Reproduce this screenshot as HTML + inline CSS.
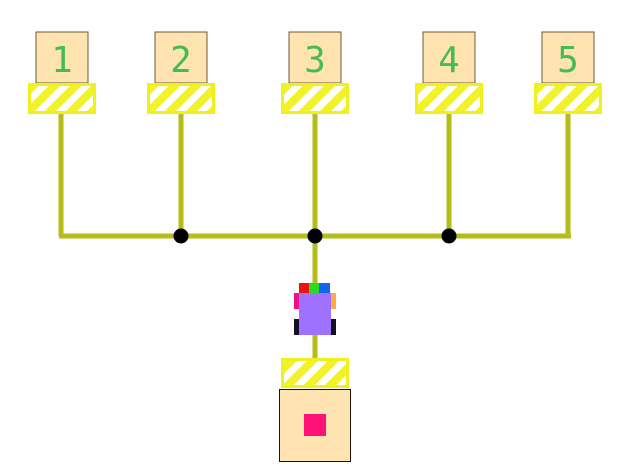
<!DOCTYPE html>
<html><head><meta charset="utf-8"><style>
html,body{margin:0;padding:0;background:#fff;}
svg{display:block;}
text{font-family:"DejaVu Sans Mono","Liberation Mono",monospace;font-size:36px;fill:#44bb55;font-weight:normal;}
</style></head><body>
<svg width="630" height="472" viewBox="0 0 630 472" xmlns="http://www.w3.org/2000/svg">
<defs>
<pattern id="h" patternUnits="userSpaceOnUse" width="15" height="15" patternTransform="rotate(45)">
<rect width="15" height="15" fill="#f2f22a"/>
<rect x="0" y="0" width="7" height="15" fill="#ffffff"/>
</pattern>
</defs>
<g stroke="#b5bd19" stroke-width="5" fill="none">
<path d="M61 114V236M181 114V236M315 114V358M449 114V236M568 114V236M59 236H571"/>
</g>
<g fill="#000">
<circle cx="181" cy="236" r="7.5"/><circle cx="315" cy="236" r="7.5"/><circle cx="449" cy="236" r="7.5"/>
</g>
<g>
<g transform="translate(61,0)"><rect x="-25" y="32" width="52" height="51" fill="#ffe4b2" stroke="#6b5a3a" stroke-width="1"/><rect x="-31.5" y="84.5" width="65" height="28" fill="url(#h)" stroke="#f0f01c" stroke-width="3"/><text x="1" y="72" text-anchor="middle">1</text></g>
<g transform="translate(181,0)"><rect x="-26" y="32" width="52" height="51" fill="#ffe4b2" stroke="#6b5a3a" stroke-width="1"/><rect x="-32.5" y="84.5" width="65" height="28" fill="url(#h)" stroke="#f0f01c" stroke-width="3"/><text x="0" y="72" text-anchor="middle">2</text></g>
<g transform="translate(315,0)"><rect x="-26" y="32" width="52" height="51" fill="#ffe4b2" stroke="#6b5a3a" stroke-width="1"/><rect x="-32.5" y="84.5" width="65" height="28" fill="url(#h)" stroke="#f0f01c" stroke-width="3"/><text x="0" y="72" text-anchor="middle">3</text></g>
<g transform="translate(449,0)"><rect x="-26" y="32" width="52" height="51" fill="#ffe4b2" stroke="#6b5a3a" stroke-width="1"/><rect x="-32.5" y="84.5" width="65" height="28" fill="url(#h)" stroke="#f0f01c" stroke-width="3"/><text x="0" y="72" text-anchor="middle">4</text></g>
<g transform="translate(568,0)"><rect x="-26" y="32" width="52" height="51" fill="#ffe4b2" stroke="#6b5a3a" stroke-width="1"/><rect x="-32.5" y="84.5" width="65" height="28" fill="url(#h)" stroke="#f0f01c" stroke-width="3"/><text x="0" y="72" text-anchor="middle">5</text></g>
</g>
<rect x="299" y="283" width="10" height="10" fill="#ee1111"/>
<rect x="309" y="283" width="10" height="10" fill="#22dd22"/>
<rect x="319" y="283" width="11" height="10" fill="#1166ee"/>
<rect x="294" y="293" width="5" height="16" fill="#ee1188"/>
<rect x="331" y="293" width="5" height="16" fill="#ffaa44"/>
<rect x="294" y="319" width="5" height="16" fill="#111122"/>
<rect x="331" y="319" width="5" height="16" fill="#111122"/>
<rect x="299" y="293" width="32" height="42" fill="#a070ff"/>
<rect x="282.5" y="359.5" width="65" height="27" fill="url(#h)" stroke="#f0f01c" stroke-width="3"/>
<rect x="279.5" y="389.5" width="71" height="72" fill="#ffe4b2" stroke="#221100" stroke-width="1"/>
<rect x="304" y="414" width="22" height="22" fill="#ff1177"/>
</svg>
</body></html>
